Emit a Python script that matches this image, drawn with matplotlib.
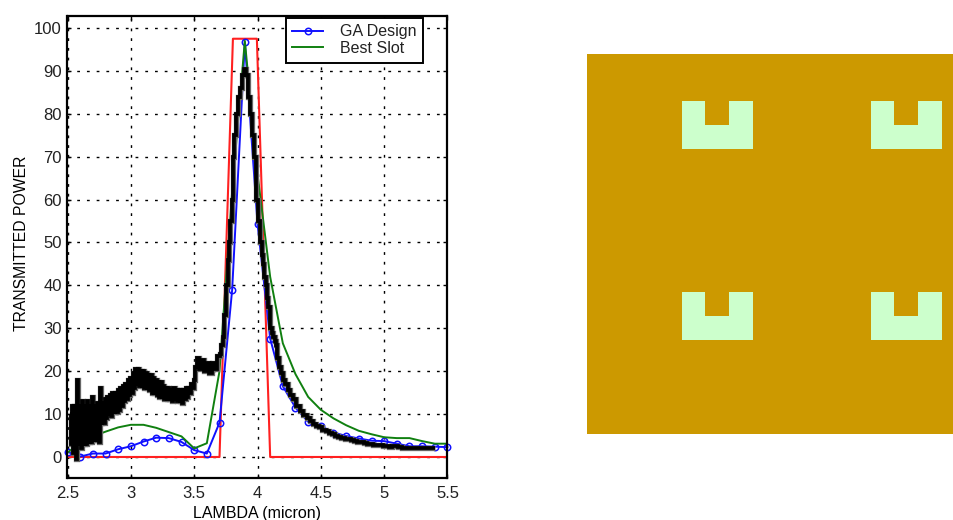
# transmitted power spectrum and the slot unit cell next to it
import matplotlib
matplotlib.use('Agg')
import matplotlib.pyplot as plt
from matplotlib.patches import Rectangle

plt.rcParams['font.family'] = ['Liberation Sans', 'DejaVu Sans']
plt.rcParams['text.color'] = '#222222'

# filter mask (red)
mask_x = [2.5, 3.70, 3.806, 3.995, 4.10, 5.5]
mask_y = [0, 0, 97.5, 97.5, 0, 0]

# GA design (blue)
ga_x = [2.5, 2.6, 2.7, 2.8, 2.9, 3.0, 3.1, 3.2, 3.3, 3.4, 3.5, 3.6, 3.7, 3.8, 3.9, 4.0,
        4.1, 4.2, 4.3, 4.4, 4.5, 4.6, 4.7, 4.8, 4.9, 5.0, 5.1, 5.2, 5.3, 5.4, 5.5]
ga_y = [1.2, 0.1, 0.8, 0.8, 1.8, 2.5, 3.6, 4.5, 4.4, 3.5, 1.6, 0.8, 8.0, 39, 96.7, 54.4,
        27.6, 16.5, 11.5, 8.2, 7.2, 5.7, 4.9, 4.3, 3.8, 3.7, 3.1, 2.5, 2.5, 2.4, 2.3]

# best slot (green)
slot_x = [2.5, 2.6, 2.7, 2.8, 2.9, 3.0, 3.1, 3.2, 3.3, 3.4, 3.5, 3.6, 3.7, 3.8, 3.9, 4.0,
          4.1, 4.2, 4.3, 4.4, 4.5, 4.6, 4.7, 4.8, 4.9, 5.0, 5.1, 5.2, 5.3, 5.4, 5.5]
slot_y = [1.0, 3.4, 4.8, 5.9, 6.9, 7.5, 7.5, 6.8, 5.8, 4.8, 2.0, 3.2, 20, 62, 97, 66,
          42, 26.5, 19.3, 14, 11, 9.0, 7.4, 6.1, 5.3, 4.6, 4.4, 4.4, 3.7, 3.1, 3.1]

# measured curve (black), noisy on the left side
meas_x = [2.52, 2.53, 2.54, 2.55, 2.56, 2.57, 2.58, 2.59, 2.6, 2.61, 2.62, 2.63, 2.64, 2.65,
          2.66, 2.67, 2.68, 2.69, 2.7, 2.71, 2.72, 2.73, 2.74, 2.75, 2.76, 2.77, 2.78, 2.79,
          2.80, 2.81, 2.82, 2.83, 2.84, 2.85, 2.86, 2.87, 2.88, 2.89, 2.90, 2.91, 2.92, 2.93,
          2.94, 2.95, 2.96, 2.97, 2.98, 2.99, 3.0, 3.01, 3.02, 3.03, 3.04, 3.05, 3.06, 3.07,
          3.08, 3.09, 3.10, 3.11, 3.12, 3.13, 3.14, 3.15, 3.16, 3.17, 3.18, 3.19, 3.20, 3.21,
          3.22, 3.23, 3.24, 3.25, 3.26, 3.27, 3.28, 3.29, 3.30, 3.31, 3.32, 3.33, 3.34, 3.35,
          3.36, 3.37, 3.38, 3.39, 3.40, 3.41, 3.42, 3.43, 3.44, 3.45, 3.46, 3.47, 3.48, 3.49,
          3.5, 3.51, 3.53, 3.55, 3.57, 3.59, 3.61, 3.63, 3.65, 3.67,
          3.69, 3.70, 3.71, 3.72, 3.73, 3.74, 3.757, 3.77, 3.78, 3.79, 3.80, 3.81, 3.825, 3.84,
          3.855, 3.87, 3.885, 3.90, 3.915, 3.93, 3.946, 3.96, 3.98,
          4.0, 4.015, 4.025, 4.04, 4.05, 4.06, 4.07, 4.08, 4.09, 4.106, 4.12, 4.13, 4.14, 4.15,
          4.165, 4.18, 4.195, 4.21, 4.23, 4.25, 4.27, 4.29, 4.32, 4.35, 4.375, 4.4,
          4.425, 4.45, 4.475, 4.5, 4.525, 4.55, 4.575, 4.6, 4.625, 4.65, 4.675, 4.7, 4.725,
          4.75, 4.775, 4.8, 4.825, 4.85, 4.875, 4.9, 4.925, 4.95, 4.975, 5.0, 5.025, 5.05,
          5.075, 5.1, 5.125, 5.15, 5.175, 5.2, 5.225, 5.25, 5.275, 5.3, 5.325, 5.35, 5.375, 5.4]
meas_y = [10, 3, 12, 1, 12, -0.5, 18, 3, 12, 2, 13, 3, 12, 3, 13, 3.5, 12, 3.5, 14, 4, 12,
          4, 12.5, 3.5, 16, 8, 12.5, 8, 13.5, 9, 14, 10, 14.5, 9.5, 15, 10.5, 15, 10.5, 15.5,
          11, 16, 12, 16.5, 13, 17, 13.5, 18, 14.5, 18.5, 15, 19.5, 16, 20.5, 17, 20.5, 16.5,
          20, 16.5, 20, 16, 19.5, 16, 19, 15.5, 19, 15, 18.5, 15, 18, 14.5, 17.5, 14, 17.5,
          14, 16.5, 13.5, 16, 13.5, 16, 13.5, 15.5, 13, 16, 13.5, 15.5, 13, 15.5, 13, 15.5,
          12.5, 15.5, 13.5, 16, 14, 16, 15, 17, 16,
          18, 21, 23, 20.5, 22.5, 20, 22, 19.5, 22, 20.5,
          23.5, 23.5, 24, 26, 28, 33, 40, 46, 50, 55, 60, 70, 75, 80,
          84, 86, 89, 90.5, 89, 84, 80, 75, 70,
          60, 55, 50, 47, 45, 42, 40, 37, 35, 30, 29, 28, 27, 26,
          23, 21, 19.5, 18, 17, 15.7, 14.5, 13.5, 12, 10.7, 9.8, 9,
          8.4, 7.8, 7.3, 6.9, 6.4, 6, 5.6, 5.3, 5, 4.7, 4.5, 4.3, 4.1,
          4, 3.8, 3.6, 3.4, 3.2, 3.1, 3, 2.8, 2.7, 2.7, 2.6, 2.5, 2.4,
          2.5, 2.5, 2.3, 2.2, 2.1, 2.1, 2.2, 2.2, 2.0, 2.0, 2.0, 2.0, 2.0, 2.0]

x_ticks = [2.5, 3, 3.5, 4, 4.5, 5, 5.5]
x_labels = ['2.5', '3', '3.5', '4', '4.5', '5', '5.5']
y_ticks = [0, 10, 20, 30, 40, 50, 60, 70, 80, 90, 100]

# slot layout on the right, in pixels inside the panel
panel_w = 367
panel_h = 380
slot_left = [95, 284]
slot_top = [47, 238]
slot_w = 71
slot_h = 48
notch_off = 23
notch_w = 24
notch_h = 24

fig = plt.figure(figsize=(9.54, 5.2), dpi=100)
ax = fig.add_axes([67.5 / 954, 1 - 478 / 520, 380 / 954, 462 / 520])

ax.plot(mask_x, mask_y, color='#ff2020', lw=1.5, zorder=3)
ax.plot(ga_x, ga_y, color='#1010ff', lw=1.4, marker='o', ms=4.6, mfc='none', mew=1.1,
        label='GA Design', zorder=4, clip_on=False)
ax.plot(slot_x, slot_y, color='#108010', lw=1.4, label='Best Slot', zorder=4)
ax.plot(meas_x, meas_y, color='#666666', lw=3.8, zorder=5, drawstyle='steps-mid',
        solid_joinstyle='miter', solid_capstyle='butt')
ax.plot(meas_x, meas_y, color='black', lw=2.7, zorder=6, drawstyle='steps-mid',
        solid_joinstyle='miter', solid_capstyle='butt')

ax.set_xlim(2.5, 5.5)
ax.set_ylim(-4.9, 102.8)
ax.set_xticks(x_ticks)
ax.set_xticklabels(x_labels)
ax.set_yticks(y_ticks)
ax.tick_params(direction='in', length=3, width=1, top=True, right=True, labelsize=12,
               labelcolor='#222222')
ax.tick_params(axis='x', pad=6)
ax.tick_params(axis='y', pad=4)
ax.grid(True, color='black', lw=1.0, linestyle=(0, (2, 5)))
ax.set_axisbelow(True)
for s in ax.spines.values():
    s.set_linewidth(1.6)
    s.set_zorder(10)
ax.set_xlabel('LAMBDA (micron)', fontsize=11.5)
ax.xaxis.set_label_coords(0.5, -0.06)
ax.set_ylabel('TRANSMITTED POWER', fontsize=11.3)
ax.yaxis.set_label_coords(-0.102, 0.509)

leg = ax.legend(loc='upper right', bbox_to_anchor=(356 / 380, 1 - 1.5 / 462),
                fontsize=11.5, fancybox=False, framealpha=1, edgecolor='black',
                borderaxespad=0, handlelength=1.94, handletextpad=1.06, labelspacing=0.1,
                borderpad=0.42)
leg.get_frame().set_linewidth(1.4)
leg.set_zorder(20)

# right panel
ax2 = fig.add_axes([587 / 954, 1 - 434 / 520, 367 / 954, 380 / 520])
ax2.set_xlim(0, panel_w)
ax2.set_ylim(panel_h, 0)
ax2.axis('off')
ax2.add_patch(Rectangle((0, 0), panel_w, panel_h, color='#cc9900', lw=0))
for top in slot_top:
    for left in slot_left:
        ax2.add_patch(Rectangle((left, top), slot_w, slot_h, color='#ccffcc', lw=0))
        ax2.add_patch(Rectangle((left + notch_off, top), notch_w, notch_h, color='#cc9900', lw=0))

fig.savefig('out.png', dpi=100)
